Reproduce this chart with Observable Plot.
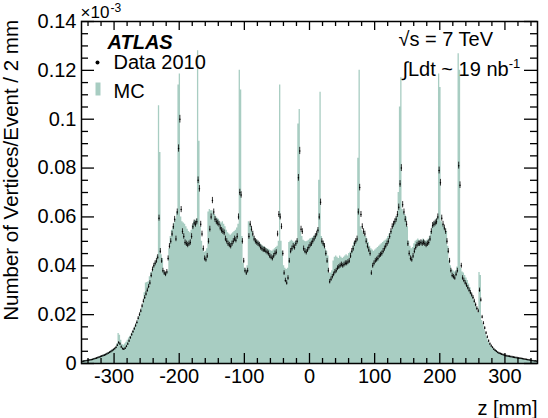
<!DOCTYPE html>
<html>
<head>
<meta charset="utf-8">
<script src="https://cdn.jsdelivr.net/npm/d3@7"></script>
<script src="https://cdn.jsdelivr.net/npm/@observablehq/plot@0.6"></script>
<style>
  body { margin: 0; background: #fff; }
  svg { display: block; }
</style>
</head>
<body>
<div id="chart"></div>
<script>
// Primary vertex z distribution, 2 mm bins from -350 to 350 mm (values in units of 10^-3)
const binLow = -350;
const binWidth = 2;

// Simulation (MC), one value per 2 mm bin
const mcValues = [
  0.0010, 0.0011, 0.0012, 0.0012, 0.0013, 0.0014, 0.0015, 0.0016, 0.0017, 0.0019,
  0.0020, 0.0022, 0.0024, 0.0026, 0.0028, 0.0030, 0.0033, 0.0035, 0.0038, 0.0040,
  0.0043, 0.0046, 0.0050, 0.0054, 0.0057, 0.0060, 0.0064, 0.0080, 0.0123, 0.0116,
  0.0095, 0.0078, 0.0075, 0.0080, 0.0087, 0.0095, 0.0104, 0.0112, 0.0121, 0.0130,
  0.0140, 0.0152, 0.0165, 0.0178, 0.0192, 0.0210, 0.0228, 0.0245, 0.0290, 0.0330,
  0.0332, 0.0335, 0.0355, 0.0372, 0.0378, 0.0395, 0.0410, 0.0420, 0.0440, 0.1055,
  0.0864, 0.0445, 0.0430, 0.0380, 0.0372, 0.0368, 0.0378, 0.0470, 0.0520, 0.0545,
  0.0560, 0.0575, 0.0590, 0.0620, 0.1140, 0.1185, 0.0600, 0.0580, 0.0575, 0.0570,
  0.0560, 0.0550, 0.0540, 0.0535, 0.0545, 0.0565, 0.0580, 0.0585, 0.0590, 0.1280,
  0.0910, 0.0560, 0.0500, 0.0470, 0.0455, 0.0460, 0.0470, 0.0620, 0.0630, 0.0625,
  0.0625, 0.0615, 0.0610, 0.0600, 0.0595, 0.0590, 0.0580, 0.0575, 0.0580, 0.0570,
  0.0560, 0.0545, 0.0535, 0.0530, 0.0525, 0.0530, 0.0535, 0.0540, 0.0545, 0.0555,
  0.0570, 0.1200, 0.1120, 0.0520, 0.0410, 0.0390, 0.0385, 0.0400, 0.0580, 0.0575,
  0.0560, 0.0540, 0.0520, 0.0510, 0.0505, 0.0500, 0.0495, 0.0490, 0.0485, 0.0480,
  0.0478, 0.0475, 0.0470, 0.0468, 0.0465, 0.0462, 0.0460, 0.0465, 0.0470, 0.0475,
  0.0480, 0.0500, 0.1140, 0.0500, 0.0460, 0.0400, 0.0390, 0.0385, 0.0390, 0.0495,
  0.0500, 0.0505, 0.0500, 0.0495, 0.0500, 0.0505, 0.0980, 0.1040, 0.0540, 0.0520,
  0.0505, 0.0500, 0.0498, 0.0500, 0.0505, 0.0510, 0.0512, 0.0515, 0.0520, 0.0525,
  0.0530, 0.0550, 0.0750, 0.1110, 0.0520, 0.0500, 0.0490, 0.0470, 0.0460, 0.0440,
  0.0370, 0.0370, 0.0380, 0.0420, 0.0435, 0.0440, 0.0435, 0.0430, 0.0440, 0.0435,
  0.0430, 0.0435, 0.0440, 0.0445, 0.0440, 0.0450, 0.0455, 0.0460, 0.0480, 0.0495,
  0.0500, 0.0505, 0.0840, 0.1200, 0.0560, 0.0545, 0.0535, 0.0525, 0.0520, 0.0510,
  0.0495, 0.0480, 0.0470, 0.0465, 0.0460, 0.0465, 0.0470, 0.0475, 0.0480, 0.0485,
  0.0490, 0.0495, 0.0500, 0.0505, 0.0510, 0.0520, 0.0530, 0.0540, 0.0550, 0.0565,
  0.0580, 0.0595, 0.0605, 0.0700, 0.1050, 0.1170, 0.0630, 0.0620, 0.0610, 0.0600,
  0.0560, 0.0500, 0.0480, 0.0470, 0.0475, 0.0490, 0.0500, 0.0505, 0.0510, 0.0505,
  0.0500, 0.0505, 0.0510, 0.0505, 0.0500, 0.0505, 0.0510, 0.0520, 0.0540, 0.0560,
  0.0575, 0.0580, 0.0590, 0.0600, 0.1185, 0.1130, 0.0580, 0.0570, 0.0560, 0.0550,
  0.0540, 0.0480, 0.0420, 0.0400, 0.0385, 0.0380, 0.0375, 0.0380, 0.0395, 0.1268,
  0.1200, 0.0390, 0.0375, 0.0370, 0.0360, 0.0350, 0.0340, 0.0325, 0.0310, 0.0290,
  0.0275, 0.0260, 0.0245, 0.0230, 0.0210, 0.0373, 0.0360, 0.0176, 0.0160, 0.0140,
  0.0120, 0.0105, 0.0090, 0.0080, 0.0072, 0.0066, 0.0060, 0.0055, 0.0050, 0.0046,
  0.0043, 0.0040, 0.0038, 0.0036, 0.0034, 0.0032, 0.0030, 0.0029, 0.0028, 0.0027,
  0.0026, 0.0025, 0.0024, 0.0023, 0.0022, 0.0021, 0.0020, 0.0019, 0.0018, 0.0017,
  0.0016, 0.0015, 0.0014, 0.0014, 0.0013, 0.0012, 0.0011, 0.0011, 0.0010, 0.0010
];

// Data 2010, one value per 2 mm bin
const dataValues = [
  0.0008, 0.0009, 0.0010, 0.0011, 0.0012, 0.0013, 0.0014, 0.0015, 0.0016, 0.0018,
  0.0020, 0.0022, 0.0024, 0.0026, 0.0028, 0.0030, 0.0032, 0.0034, 0.0036, 0.0039,
  0.0042, 0.0045, 0.0048, 0.0052, 0.0056, 0.0060, 0.0066, 0.0075, 0.0085, 0.0080,
  0.0068, 0.0060, 0.0058, 0.0062, 0.0070, 0.0080, 0.0092, 0.0105, 0.0118, 0.0130,
  0.0142, 0.0155, 0.0168, 0.0185, 0.0200, 0.0215, 0.0235, 0.0255, 0.0270, 0.0285,
  0.0300, 0.0315, 0.0330, 0.0360, 0.0385, 0.0400, 0.0410, 0.0420, 0.0435, 0.0595,
  0.0460, 0.0420, 0.0380, 0.0370, 0.0365, 0.0375, 0.0430, 0.0480, 0.0500, 0.0530,
  0.0560, 0.0590, 0.0510, 0.0620, 0.0880, 0.1000, 0.0630, 0.0540, 0.0520, 0.0495,
  0.0490, 0.0485, 0.0490, 0.0495, 0.0520, 0.0560, 0.0575, 0.0570, 0.0580, 0.0750,
  0.0715, 0.0570, 0.0530, 0.0470, 0.0430, 0.0425, 0.0440, 0.0500, 0.0550, 0.0600,
  0.0667, 0.0620, 0.0590, 0.0580, 0.0575, 0.0570, 0.0555, 0.0545, 0.0540, 0.0535,
  0.0510, 0.0500, 0.0490, 0.0485, 0.0480, 0.0490, 0.0500, 0.0510, 0.0505, 0.0520,
  0.0600, 0.0700, 0.0690, 0.0500, 0.0420, 0.0380, 0.0370, 0.0380, 0.0520, 0.0570,
  0.0550, 0.0530, 0.0510, 0.0500, 0.0495, 0.0490, 0.0485, 0.0475, 0.0470, 0.0465,
  0.0465, 0.0460, 0.0455, 0.0450, 0.0440, 0.0435, 0.0430, 0.0440, 0.0450, 0.0455,
  0.0530, 0.0610, 0.0600, 0.0560, 0.0450, 0.0370, 0.0340, 0.0330, 0.0350, 0.0420,
  0.0460, 0.0470, 0.0480, 0.0475, 0.0490, 0.0500, 0.0760, 0.0870, 0.0550, 0.0540,
  0.0470, 0.0460, 0.0455, 0.0465, 0.0475, 0.0485, 0.0490, 0.0500, 0.0510, 0.0520,
  0.0530, 0.0545, 0.0600, 0.0660, 0.0500, 0.0490, 0.0480, 0.0450, 0.0420, 0.0380,
  0.0335, 0.0345, 0.0355, 0.0365, 0.0375, 0.0380, 0.0390, 0.0395, 0.0400, 0.0405,
  0.0400, 0.0405, 0.0410, 0.0410, 0.0415, 0.0420, 0.0440, 0.0460, 0.0470, 0.0490,
  0.0500, 0.0510, 0.0620, 0.0720, 0.0610, 0.0560, 0.0540, 0.0530, 0.0500, 0.0480,
  0.0465, 0.0450, 0.0370, 0.0400, 0.0410, 0.0420, 0.0425, 0.0430, 0.0440, 0.0445,
  0.0450, 0.0460, 0.0470, 0.0480, 0.0490, 0.0500, 0.0520, 0.0540, 0.0560, 0.0570,
  0.0580, 0.0590, 0.0610, 0.0640, 0.0735, 0.0800, 0.0650, 0.0620, 0.0590, 0.0570,
  0.0490, 0.0450, 0.0430, 0.0425, 0.0440, 0.0460, 0.0475, 0.0485, 0.0490, 0.0490,
  0.0495, 0.0490, 0.0495, 0.0490, 0.0485, 0.0490, 0.0495, 0.0510, 0.0540, 0.0565,
  0.0570, 0.0575, 0.0580, 0.0600, 0.0790, 0.0740, 0.0595, 0.0570, 0.0555, 0.0540,
  0.0500, 0.0460, 0.0420, 0.0380, 0.0360, 0.0355, 0.0350, 0.0365, 0.0380, 0.0810,
  0.0730, 0.0400, 0.0350, 0.0340, 0.0330, 0.0320, 0.0310, 0.0300, 0.0290, 0.0280,
  0.0270, 0.0255, 0.0240, 0.0225, 0.0215, 0.0300, 0.0260, 0.0190, 0.0165, 0.0145,
  0.0125, 0.0108, 0.0092, 0.0080, 0.0072, 0.0065, 0.0058, 0.0053, 0.0049, 0.0045,
  0.0042, 0.0040, 0.0038, 0.0036, 0.0034, 0.0032, 0.0031, 0.0030, 0.0029, 0.0028,
  0.0027, 0.0026, 0.0025, 0.0024, 0.0023, 0.0022, 0.0021, 0.0020, 0.0019, 0.0018,
  0.0017, 0.0016, 0.0015, 0.0014, 0.0013, 0.0012, 0.0011, 0.0010, 0.0010, 0.0009
];

// Axis ticks and their labels
const xMajorTicks = [-300, -200, -100, 0, 100, 200, 300];
const xTickLabels = ["-300", "-200", "-100", "0", "100", "200", "300"];
const yMajorTicks = [0, 0.02, 0.04, 0.06, 0.08, 0.1, 0.12, 0.14];
const yTickLabels = ["0", "0.02", "0.04", "0.06", "0.08", "0.1", "0.12", "0.14"];
const yTitle = "Number of Vertices/Event / 2 mm";

const mcColor = "#a8cdc2";
const font = "'Liberation Sans', Arial, Helvetica, sans-serif";

const W = 548, H = 418;
const M = {top: 21, right: 11, bottom: 55, left: 81};
const innerW = W - M.left - M.right;
const innerH = H - M.top - M.bottom;

const bins = mcValues.map((mc, i) => ({
  lo: binLow + i * binWidth,
  mid: binLow + (i + 0.5) * binWidth,
  mc,
  data: dataValues[i]
}));
// closing point so the step outline reaches the upper edge of the last bin
const stepRows = [...bins, {lo: binLow + bins.length * binWidth, mc: mcValues[mcValues.length - 1]}];

// statistical error bar half-length for the data points
const statErr = v => 0.005 * Math.sqrt(v);

const xMinor = d3.range(-340, 341, 20).filter(v => v % 100 !== 0);
const yMinor = d3.range(0, 29).map(k => k * 0.005).filter((v, k) => k % 4 !== 0);

const rectSymbol = {draw(ctx) { ctx.rect(-2.5, -6.5, 5, 13); }};

const ann = (text, anchor, dx, dy, extra = {}) =>
  Plot.text([text], {text: d => d, frameAnchor: anchor, dx, dy, fontSize: 20,
    textAnchor: "start", lineAnchor: "bottom", fill: "black", ...extra});

const svg = Plot.plot({
  width: W,
  height: H,
  marginTop: M.top,
  marginRight: M.right,
  marginBottom: M.bottom,
  marginLeft: M.left,
  style: {fontFamily: font, fontSize: "20px", background: "white", overflow: "visible"},
  x: {type: "linear", domain: [-350, 350]},
  y: {type: "linear", domain: [0, 0.14]},
  marks: [
    // MC histogram
    Plot.areaY(stepRows, {x: "lo", y: "mc", curve: "step-after", fill: mcColor}),
    // data points with error bars
    Plot.ruleX(bins, {x: "mid", y1: d => d.data - statErr(d.data), y2: d => d.data + statErr(d.data),
      stroke: "#1a1a1a", strokeWidth: 0.9}),
    Plot.dot(bins, {x: "mid", y: "data", r: 0.75, fill: "black"}),
    // frame and inward ticks on all four sides
    Plot.frame({stroke: "black", strokeWidth: 1.5}),
    Plot.tickX(xMajorTicks, {x: d => d, insetTop: innerH - 10, stroke: "black", strokeWidth: 1.3}),
    Plot.tickX(xMinor, {x: d => d, insetTop: innerH - 5, stroke: "black", strokeWidth: 1.3}),
    Plot.tickX(xMajorTicks, {x: d => d, insetBottom: innerH - 9, stroke: "black", strokeWidth: 1.3}),
    Plot.tickX(xMinor, {x: d => d, insetBottom: innerH - 5, stroke: "black", strokeWidth: 1.3}),
    Plot.tickY(yMajorTicks, {y: d => d, insetRight: innerW - 13, stroke: "black", strokeWidth: 1.3}),
    Plot.tickY(yMinor, {y: d => d, insetRight: innerW - 7, stroke: "black", strokeWidth: 1.3}),
    Plot.tickY(yMajorTicks, {y: d => d, insetLeft: innerW - 13, stroke: "black", strokeWidth: 1.3}),
    Plot.tickY(yMinor, {y: d => d, insetLeft: innerW - 7, stroke: "black", strokeWidth: 1.3}),
    // tick labels
    Plot.axisX(xMajorTicks, {tickSize: 0, tickPadding: 5, fontSize: 20, label: null,
      tickFormat: d => xTickLabels[xMajorTicks.indexOf(d)]}),
    Plot.axisY(yMajorTicks, {tickSize: 0, tickPadding: 5, fontSize: 20, label: null,
      tickFormat: d => yTickLabels[yMajorTicks.indexOf(d)]}),
    // x axis title
    ann("z [mm]", "bottom-right", 0, 51, {textAnchor: "end"}),
    // axis multiplier
    ann("\u00d710", "top-left", -1, -4, {fontSize: 17}),
    ann("-3", "top-left", 29, -10, {fontSize: 12}),
    // legend
    ann("ATLAS", "top-left", 26, 27, {fontWeight: "bold", fontStyle: "italic"}),
    Plot.dot([0], {frameAnchor: "top-left", dx: 16, dy: 41, r: 2, fill: "black"}),
    ann("Data 2010", "top-left", 32, 47),
    Plot.dot([0], {frameAnchor: "top-left", dx: 16.5, dy: 67.5, symbol: rectSymbol, fill: mcColor}),
    ann("MC", "top-left", 32, 76),
    // run conditions
    ann("\u221as = 7 TeV", "top-left", 317, 24),
    ann("\u222bLdt ~ 19 nb^-1", "top-left", 321, 54)
  ]
});

// render "^" as a superscript
d3.select(svg).selectAll("text").each(function () {
  const s = this.textContent;
  const k = s.indexOf("^");
  if (k < 0 || this.children.length) return;
  const el = d3.select(this);
  el.text(s.slice(0, k));
  el.append("tspan").attr("dy", "-0.55em").attr("font-size", "0.65em").text(s.slice(k + 1));
});

// y axis title, rotated and aligned with the top of the frame
d3.select(svg).append("text")
  .attr("transform", `translate(18,${M.top - 1}) rotate(-90)`)
  .attr("text-anchor", "end")
  .attr("font-size", 20.5)
  .attr("fill", "black")
  .text(yTitle);

document.getElementById("chart").appendChild(svg);
</script>
</body>
</html>
